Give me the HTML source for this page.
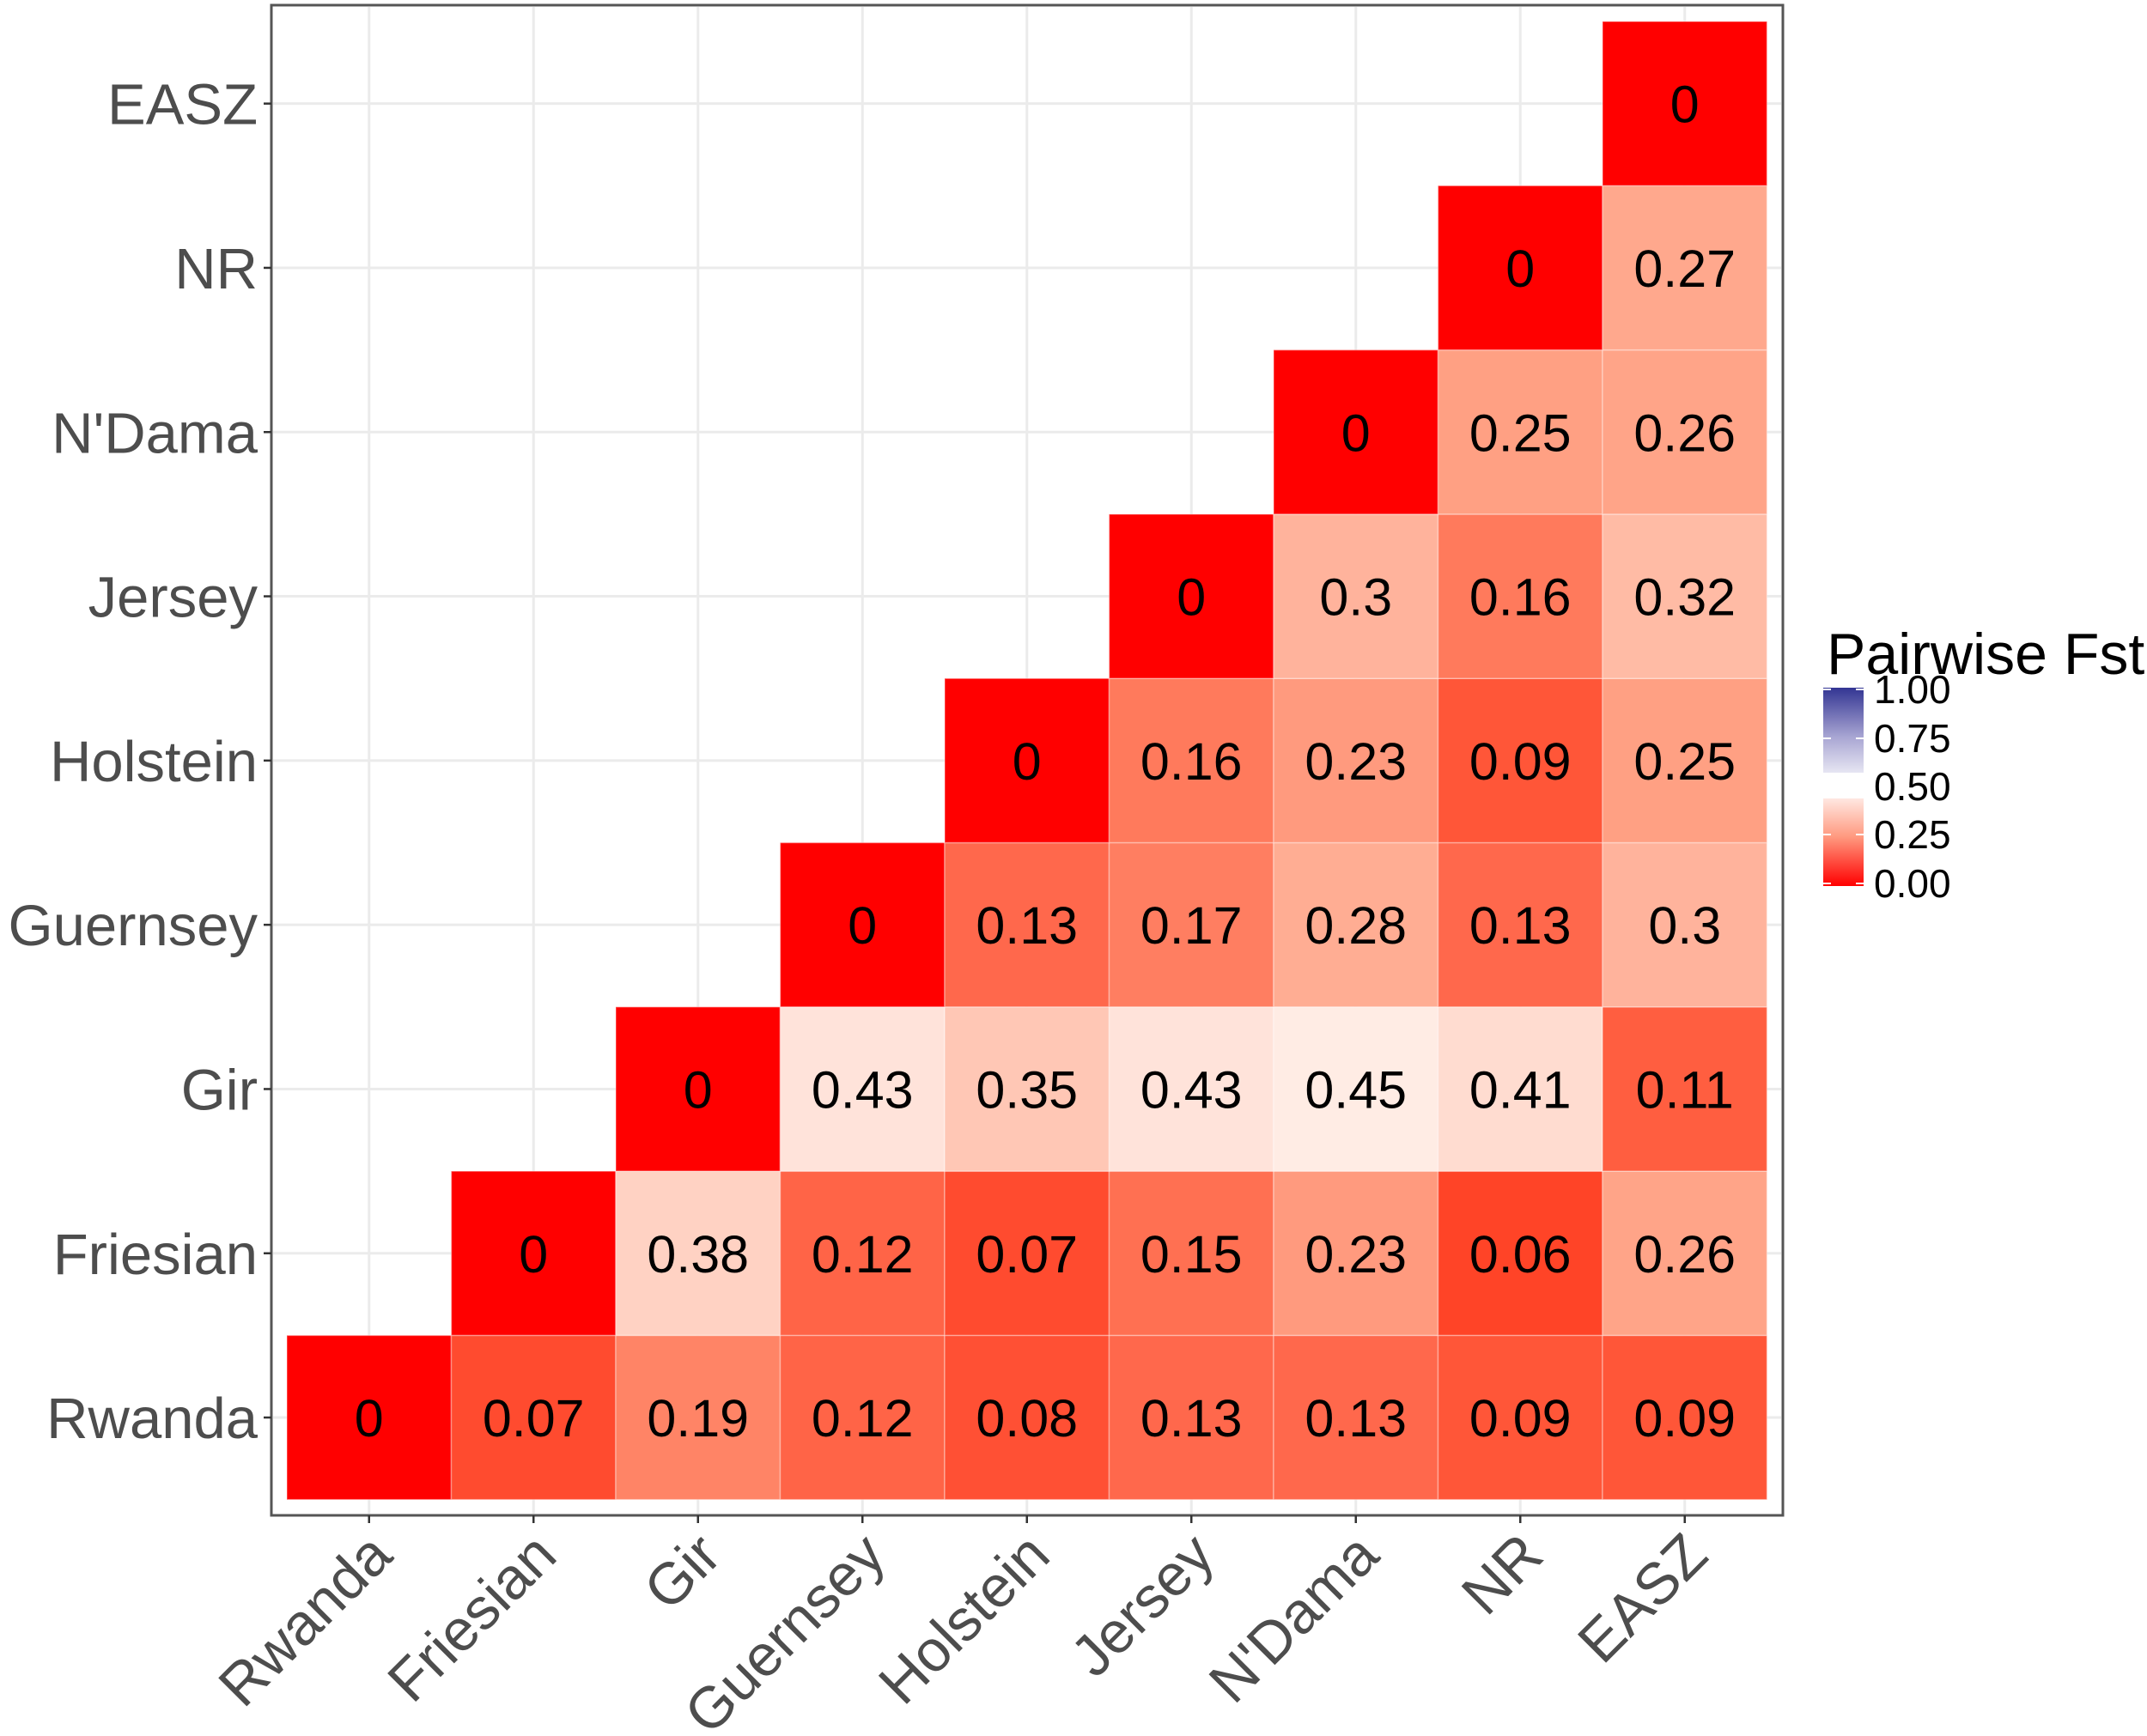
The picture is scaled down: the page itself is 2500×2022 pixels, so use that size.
<!DOCTYPE html>
<html><head><meta charset="utf-8"><style>
html,body{margin:0;padding:0;background:#fff;}
svg{display:block;}
</style></head><body>
<svg width="2500" height="2022" viewBox="0 0 2500 2022" xmlns="http://www.w3.org/2000/svg" font-family="Liberation Sans, Arial, sans-serif">
<defs>
<linearGradient id="g" x1="0" y1="1" x2="0" y2="0">
<stop offset="0" stop-color="#ff0000"/>
<stop offset="0.25" stop-color="#ff9a80"/>
<stop offset="0.5" stop-color="#ffffff"/>
<stop offset="0.75" stop-color="#a9a6d3"/>
<stop offset="1" stop-color="#333593"/>
</linearGradient>
</defs>
<rect x="0" y="0" width="2500" height="2022" fill="#fff"/>
<g id="grid" stroke="#ebebeb" stroke-width="3"></g>
<g id="tiles"></g>
<g id="txt" font-size="61" text-anchor="middle" fill="#000"></g>
<rect x="316" y="6" width="1760" height="1759" fill="none" stroke="#555" stroke-width="3"/>
<g id="ax" fill="#4d4d4d" font-size="67"></g>
<text x="2127" y="785" font-size="68" fill="#000">Pairwise Fst</text>
<rect x="2123" y="801" width="47" height="231" fill="url(#g)"/>
<rect x="2123" y="900" width="47" height="30" fill="#fff"/>
<g stroke="#fff" stroke-width="2">
<line x1="2123" y1="803" x2="2132" y2="803"/><line x1="2161" y1="803" x2="2170" y2="803"/>
<line x1="2123" y1="860" x2="2132" y2="860"/><line x1="2161" y1="860" x2="2170" y2="860"/>
<line x1="2123" y1="972" x2="2132" y2="972"/><line x1="2161" y1="972" x2="2170" y2="972"/>
<line x1="2123" y1="1029" x2="2132" y2="1029"/><line x1="2161" y1="1029" x2="2170" y2="1029"/>
</g>
<g font-size="46" fill="#000">
<text x="2182" y="819">1.00</text>
<text x="2182" y="876">0.75</text>
<text x="2182" y="932">0.50</text>
<text x="2182" y="988">0.25</text>
<text x="2182" y="1045">0.00</text>
</g>
</svg>
<script>
const names=["Rwanda","Friesian","Gir","Guernsey","Holstein","Jersey","N'Dama","NR","EASZ"];
const rows={
0:["0","0.07","0.19","0.12","0.08","0.13","0.13","0.09","0.09"],
1:["0","0.38","0.12","0.07","0.15","0.23","0.06","0.26"],
2:["0","0.43","0.35","0.43","0.45","0.41","0.11"],
3:["0","0.13","0.17","0.28","0.13","0.3"],
4:["0","0.16","0.23","0.09","0.25"],
5:["0","0.3","0.16","0.32"],
6:["0","0.25","0.26"],
7:["0","0.27"],
8:["0"]};
const col={"0":"#ff0000","0.06":"#ff4427","0.07":"#ff4b2f","0.08":"#ff5034","0.09":"#ff5638","0.11":"#ff5e40","0.12":"#ff6447","0.13":"#ff684c","0.15":"#ff7052","0.16":"#ff7a5c","0.17":"#ff7e61","0.19":"#ff8466","0.23":"#ff9a7e","0.25":"#ffa083","0.26":"#ffa488","0.27":"#ffa88d","0.28":"#ffad93","0.3":"#ffb39c","0.32":"#ffbba5","0.35":"#ffc7b5","0.38":"#ffd2c3","0.41":"#ffdcd0","0.43":"#ffe3da","0.45":"#ffece4"};
const X0=334,W=191.5,Y0=25,H=191.3;
const NS="http://www.w3.org/2000/svg";
function el(t,a,p,txt){const e=document.createElementNS(NS,t);for(const k in a)e.setAttribute(k,a[k]);if(txt!=null)e.textContent=txt;document.getElementById(p).appendChild(e);return e;}
for(let i=0;i<9;i++){
 const cx=X0+W*(i+0.5), cy=Y0+H*(8-i+0.5);
 el("line",{x1:cx,y1:8,x2:cx,y2:1763},"grid");
 el("line",{x1:318,y1:cy,x2:2074,y2:cy},"grid");
}
for(let r=0;r<9;r++){
 const vals=rows[r];
 for(let k=0;k<vals.length;k++){
  const c=r+k, v=vals[k];
  const x=X0+W*c, y=Y0+H*(8-r);
  el("rect",{x:x,y:y,width:W,height:H,fill:col[v],stroke:"#ffffff","stroke-opacity":"0.35","stroke-width":"1.5"},"tiles");
  el("text",{x:x+W/2,y:y+H/2+22},"txt",v);
 }
}
for(let i=0;i<9;i++){
 const cx=X0+W*(i+0.5), cy=Y0+H*(8-i+0.5);
 el("text",{x:300,y:cy+24,"text-anchor":"end"},"ax",names[i]);
 el("line",{x1:307,y1:cy,x2:316,y2:cy,stroke:"#333","stroke-width":"2.5"},"ax");
 el("line",{x1:cx,y1:1765,x2:cx,y2:1774,stroke:"#333","stroke-width":"2.5"},"ax");
 const ax=cx+30, ay=1815;
 el("text",{x:ax,y:ay,"text-anchor":"end","font-size":"68",transform:`rotate(-45 ${ax} ${ay})`},"ax",names[i]);
}
</script>
</body></html>
